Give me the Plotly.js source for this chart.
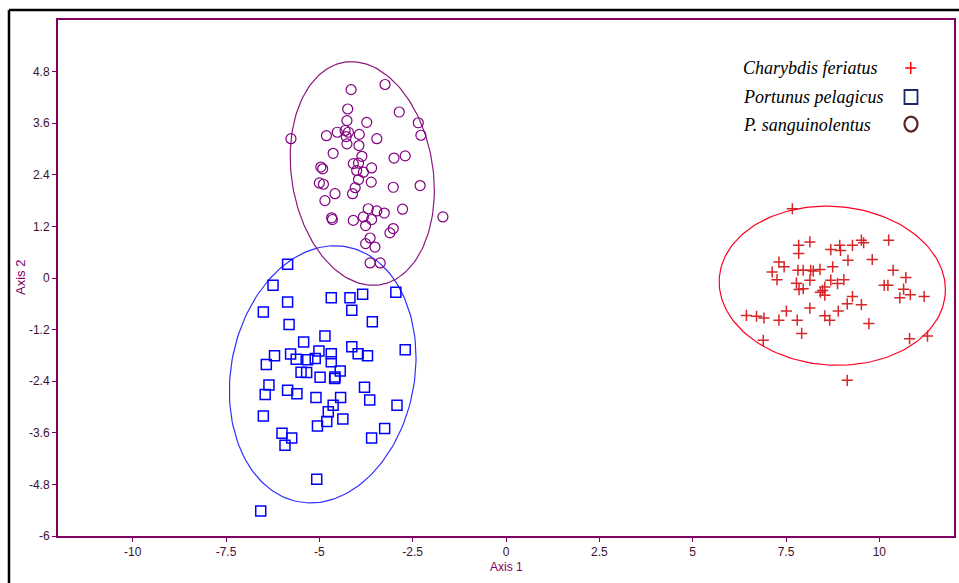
<!DOCTYPE html>
<html>
<head>
<meta charset="utf-8">
<script src="https://cdn.plot.ly/plotly-3.0.1.min.js"></script>
<style>html,body{margin:0;padding:0;background:#fff;}#chart{width:959px;height:583px;}</style>
</head>
<body>
<div id="chart"></div>
<script>
// Series names
const seriesNames = ["Charybdis feriatus", "Portunus pelagicus", "P. sanguinolentus"];

// Charybdis feriatus (red plus)
const chaX = [7.67,7.84,7.84,8.14,8.70,8.94,8.96,9.28,9.52,9.58,10.25,9.16,9.81,7.31,7.45,7.13,7.26,7.82,7.96,8.16,8.23,8.41,8.75,7.78,7.85,7.96,8.14,8.70,8.88,9.05,8.54,8.42,8.54,10.37,10.71,10.13,10.23,10.65,10.83,10.55,11.20,9.28,9.14,9.52,6.44,6.71,6.91,7.31,7.51,7.80,8.14,8.54,8.67,8.90,9.72,6.89,7.92,10.81,11.29,9.14,8.48];
const chaY = [1.61,0.76,0.57,0.84,0.66,0.76,0.64,0.76,0.88,0.82,0.88,0.41,0.43,0.37,0.26,0.14,-0.04,0.18,0.18,0.18,0.16,0.20,0.26,-0.12,-0.27,-0.25,-0.05,-0.05,-0.13,-0.04,-0.21,-0.33,-0.40,0.18,0.01,-0.17,-0.17,-0.26,-0.39,-0.46,-0.43,-0.43,-0.60,-0.62,-0.87,-0.89,-0.93,-0.98,-0.77,-0.98,-0.70,-0.88,-0.98,-0.77,-1.06,-1.45,-1.29,-1.41,-1.35,-2.38,-0.29];

// Portunus pelagicus (blue squares)
const porX = [-5.85,-6.24,-5.85,-6.50,-4.68,-4.18,-3.84,-2.95,-4.13,-3.58,-5.81,-4.85,-5.42,-2.70,-4.13,-3.96,-3.71,-6.20,-6.42,-5.77,-5.62,-5.31,-5.11,-5.01,-4.68,-4.68,-5.49,-5.34,-4.98,-4.58,-4.44,-4.59,-6.35,-6.45,-5.85,-5.60,-5.09,-4.43,-3.79,-3.65,-2.92,-4.63,-4.76,-4.80,-5.05,-4.37,-6.50,-6.00,-5.74,-5.92,-3.25,-3.60,-5.07,-6.57];
const porY = [0.32,-0.17,-0.56,-0.79,-0.46,-0.46,-0.38,-0.33,-0.75,-1.02,-1.08,-1.35,-1.49,-1.67,-1.60,-1.76,-1.81,-1.81,-2.01,-1.77,-1.89,-1.90,-1.87,-1.70,-1.76,-1.95,-2.19,-2.20,-2.31,-2.30,-2.16,-2.34,-2.49,-2.71,-2.61,-2.69,-2.78,-2.78,-2.54,-2.84,-2.96,-2.96,-3.11,-3.34,-3.44,-3.28,-3.21,-3.61,-3.72,-3.89,-3.50,-3.72,-4.68,-5.42];

// P. sanguinolentus (purple circles)
const sanX = [-4.15,-3.24,-2.86,-4.24,-2.35,-2.28,-3.73,-4.26,-4.52,-4.31,-4.22,-4.28,-3.93,-4.81,-5.76,-3.46,-4.26,-3.94,-4.63,-3.86,-3.00,-2.70,-4.09,-3.95,-4.00,-3.82,-3.60,-4.96,-4.91,-3.95,-3.61,-5.00,-4.89,-4.04,-4.11,-4.58,-3.02,-2.30,-4.85,-2.77,-1.69,-3.69,-3.46,-3.26,-3.60,-3.82,-4.09,-4.67,-4.65,-3.76,-3.02,-3.11,-3.64,-3.76,-3.51,-3.64,-3.37];
const sanY = [4.38,4.50,3.86,3.93,3.61,3.32,3.62,3.66,3.39,3.43,3.39,3.29,3.34,3.31,3.24,3.24,3.12,3.08,2.90,2.83,2.79,2.84,2.66,2.67,2.50,2.46,2.56,2.58,2.54,2.29,2.23,2.21,2.18,2.10,1.96,1.96,2.11,2.15,1.80,1.60,1.42,1.61,1.56,1.51,1.36,1.42,1.34,1.40,1.36,1.22,1.15,1.05,0.93,0.80,0.72,0.35,0.35];

// Confidence ellipses (order: Charybdis, Portunus, sanguinolentus)
const ellipseCx  = [8.74, -4.91, -3.85];
const ellipseCy  = [-0.18, -2.24, 2.43];
const ellipseSx  = [3.03, 2.50, 1.93];
const ellipseSy  = [1.85, 2.99, 2.60];
const ellipseRho = [-0.05, 0.13, -0.15];

// Axis ticks
const xTickVals = [-10, -7.5, -5, -2.5, 0, 2.5, 5, 7.5, 10];
const xTickText = ["-10", "-7.5", "-5", "-2.5", "0", "2.5", "5", "7.5", "10"];
const yTickVals = [-6, -4.8, -3.6, -2.4, -1.2, 0, 1.2, 2.4, 3.6, 4.8];
const yTickText = ["-6", "-4.8", "-3.6", "-2.4", "-1.2", "0", "1.2", "2.4", "3.6", "4.8"];

const colors = ["#ff0000", "#0000ff", "#800080"];
const ellColors = ["#ff0022", "#3030ff", "#8a1a80"];

function ellipse(i) {
  const xs = [], ys = [];
  const n = 180;
  const k = Math.sqrt(1 - ellipseRho[i] * ellipseRho[i]);
  for (let j = 0; j <= n; j++) {
    const t = 2 * Math.PI * j / n;
    xs.push(ellipseCx[i] + ellipseSx[i] * Math.cos(t));
    ys.push(ellipseCy[i] + ellipseSy[i] * (ellipseRho[i] * Math.cos(t) + k * Math.sin(t)));
  }
  return {x: xs, y: ys, mode: "lines", type: "scatter", line: {color: ellColors[i], width: 1.2}, hoverinfo: "skip", showlegend: false};
}

const traces = [
  ellipse(0), ellipse(1), ellipse(2),
  {x: chaX, y: chaY, name: seriesNames[0], type: "scatter", mode: "markers",
   marker: {symbol: "cross-thin-open", size: 8, line: {color: colors[0], width: 1.5}}},
  {x: porX, y: porY, name: seriesNames[1], type: "scatter", mode: "markers",
   marker: {symbol: "square-open", size: 10, color: colors[1], line: {color: colors[1], width: 1.5}}},
  {x: sanX, y: sanY, name: seriesNames[2], type: "scatter", mode: "markers",
   marker: {symbol: "circle-open", size: 10, color: colors[2], line: {color: colors[2], width: 1.2}}}
];

const axisCol = "#800060";
const tickFont = {family: "Liberation Sans, Arial, sans-serif", size: 12, color: "#3c1030"};
const legFont = {family: "Liberation Serif, Times New Roman, serif", size: 18, color: "#000000", style: "italic"};

const layout = {
  width: 959, height: 583, autosize: false,
  margin: {l: 58, r: 5, t: 20, b: 47, pad: 0},
  paper_bgcolor: "#ffffff", plot_bgcolor: "#ffffff",
  showlegend: false,
  xaxis: {range: [-12, 12], tickvals: xTickVals, ticktext: xTickText, showgrid: false, zeroline: false,
          showline: true, linecolor: axisCol, linewidth: 2, mirror: true,
          ticks: "outside", ticklen: 4, tickcolor: axisCol, tickfont: tickFont},
  yaxis: {range: [-6, 6], tickvals: yTickVals, ticktext: yTickText, showgrid: false, zeroline: false,
          showline: true, linecolor: axisCol, linewidth: 2, mirror: true,
          ticks: "outside", ticklen: 4, tickcolor: axisCol, tickfont: tickFont},
  annotations: [
    {text: "Axis 1", xref: "paper", yref: "paper", x: 0.5, y: -0.061, xanchor: "center", yanchor: "middle", showarrow: false,
     font: {family: "Liberation Sans, Arial, sans-serif", size: 12, color: axisCol}},
    {text: "Axis 2", xref: "paper", yref: "paper", x: -0.0424, y: 0.5, xanchor: "center", yanchor: "middle", textangle: -90, showarrow: false,
     font: {family: "Liberation Sans, Arial, sans-serif", size: 13, color: axisCol}},
    {text: seriesNames[0], xref: "paper", yref: "paper", x: 0.7623, y: 0.907, xanchor: "left", yanchor: "middle", showarrow: false, font: legFont},
    {text: seriesNames[1], xref: "paper", yref: "paper", x: 0.7623, y: 0.8508, xanchor: "left", yanchor: "middle", showarrow: false, font: legFont},
    {text: seriesNames[2], xref: "paper", yref: "paper", x: 0.7623, y: 0.7965, xanchor: "left", yanchor: "middle", showarrow: false, font: legFont}
  ],
  shapes: [
    // outer black frame
    {type: "line", xref: "paper", yref: "paper", x0: -0.0547, x1: 1.01, y0: 1.0194, y1: 1.0194, line: {color: "#000", width: 2.5}},
    {type: "line", xref: "paper", yref: "paper", x0: -0.0547, x1: -0.0547, y0: 1.0194, y1: -0.1, line: {color: "#000", width: 2.5}},
    // legend symbols
    {type: "path", xref: "paper", yref: "paper", xsizemode: "pixel", ysizemode: "pixel", xanchor: 0.9517, yanchor: 0.907,
     path: "M-5.5,0H5.5M0,-6V6", line: {color: "#ff0000", width: 1.5}},
    {type: "rect", xref: "paper", yref: "paper", xsizemode: "pixel", ysizemode: "pixel", xanchor: 0.952, yanchor: 0.8508,
     x0: -6.5, x1: 6.5, y0: -7, y1: 7, line: {color: "#1a2a6a", width: 1.8}},
    {type: "circle", xref: "paper", yref: "paper", xsizemode: "pixel", ysizemode: "pixel", xanchor: 0.952, yanchor: 0.7984,
     x0: -6.5, x1: 6.5, y0: -7.5, y1: 7.5, line: {color: "#5a2222", width: 2.2}}
  ]
};

Plotly.newPlot("chart", traces, layout, {displayModeBar: false, staticPlot: true});
</script>
</body>
</html>
